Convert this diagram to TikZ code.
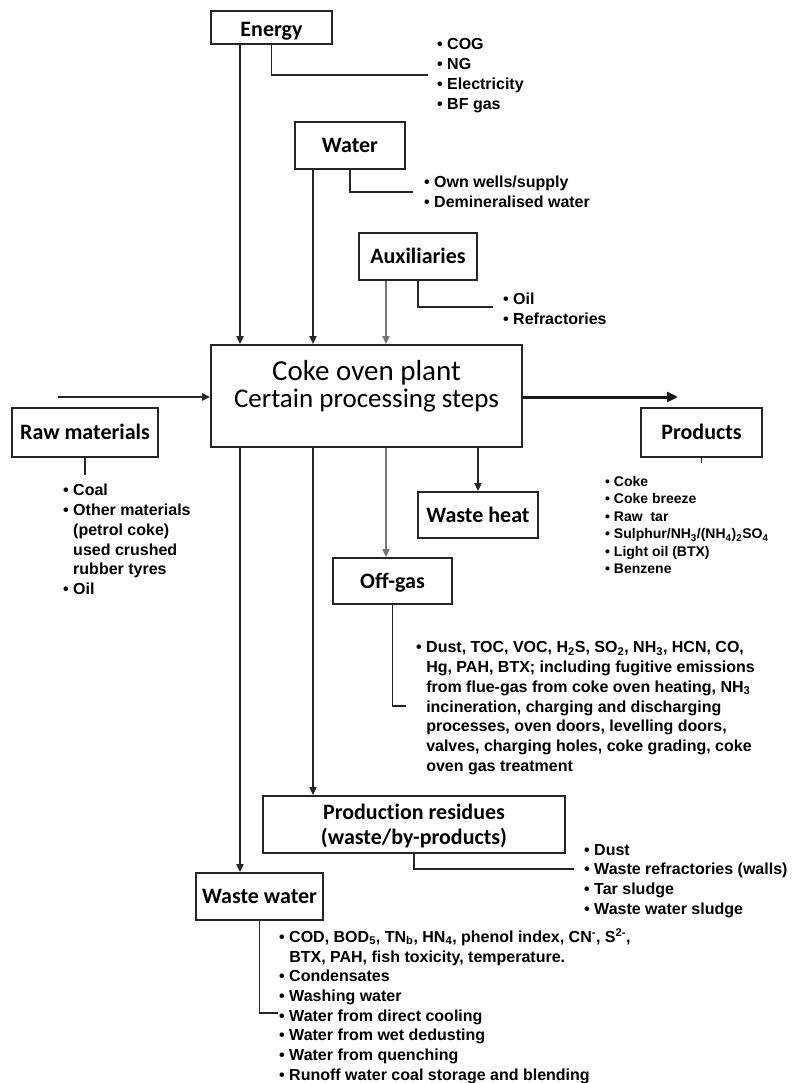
\documentclass[tikz,border=0pt]{standalone}
\usepackage{fontspec}
\setmainfont{Liberation Sans}
\newfontfamily\carlito[Ligatures=NoCommon]{Carlito}
\usetikzlibrary{arrows.meta}

% continuation line of a bulleted item
\newcommand{\cont}{\hphantom{\textbullet\ }}

\tikzset{
  box/.style={draw=black!85, line width=1.8pt, inner sep=0pt, align=center,
    text height=14pt, text depth=0pt,
    font=\carlito\bfseries\fontsize{22}{25}\selectfont},
  conn/.style={draw=black!85, line width=1.8pt},
  arr/.style={conn, -{Triangle[length=8pt,width=7pt]}},
  garr/.style={arr, draw=black!55},
  bigarr/.style={draw=black!90, line width=3pt, -{Triangle[length=11pt,width=10pt]}},
  itemlist/.style={anchor=north west, inner sep=0pt, align=left,
    font=\bfseries\fontsize{16}{19.7}\selectfont},
  smalllist/.style={itemlist, font=\bfseries\fontsize{14}{17.5}\selectfont},
  plantfont/.style={anchor=base, inner sep=0pt, font=\carlito},
}

\begin{document}
\begin{tikzpicture}[x=1pt,y=-1pt]
\fill[white] (0,0) rectangle (792,1083);
\useasboundingbox (0,0) rectangle (792,1083);

% columns of the vertical flows
\coordinate (colA) at (240,0);
\coordinate (colB) at (313,0);
\coordinate (colC) at (386,0);

% boxes
\node[box, minimum width=121pt, minimum height=33pt, text height=19pt] (energy) at (271.5,27.5) {Energy};
\node[box, minimum width=110pt, minimum height=47pt] (water) at (350,145.5) {Water};
\node[box, minimum width=118pt, minimum height=47pt] (aux) at (418,256.5) {Auxiliaries};
\node[box, minimum width=311pt, minimum height=102pt] (plant) at (366.5,396) {};
\node[box, minimum width=146pt, minimum height=49pt] (raw) at (85,432.5) {Raw materials};
\node[box, minimum width=121pt, minimum height=49pt] (products) at (701.5,432.5) {Products};
\node[box, minimum width=120pt, minimum height=46pt] (wasteheat) at (478,515) {Waste heat};
\node[box, minimum width=119pt, minimum height=46pt] (offgas) at (392.5,581) {Off-gas};
\node[box, minimum width=302pt, minimum height=57pt, text height=39pt] (residues) at (414,824.5)
  {Production residues\\(waste/by-products)};
\node[box, minimum width=127pt, minimum height=47pt] (wastewater) at (259.5,896.5) {Waste water};

% title of the plant box
\node[plantfont, font=\carlito\fontsize{29}{32}\selectfont] (plantname) at (366.5,380.5) {Coke oven plant};
\node[plantfont, font=\carlito\fontsize{27}{30}\selectfont] (plantsteps) at (366.5,407) {Certain processing steps};

% item lists
\node[itemlist] (elist) at (437,36) {\strut• COG\\• NG\\• Electricity\\• BF gas};
\node[itemlist] (wlist) at (424,174) {\strut• Own wells/supply\\• Demineralised water};
\node[itemlist] (alist) at (503,291) {\strut• Oil\\• Refractories};
\node[itemlist] (rlist) at (63,482) {\strut• Coal\\• Other materials\\\cont(petrol coke)\\\cont used crushed\\\cont rubber tyres\\• Oil};
\node[smalllist] (plist) at (605,474) {\strut• Coke\\• Coke breeze\\• Raw~ tar\\• Sulphur/NH\textsubscript{3}/(NH\textsubscript{4})\textsubscript{2}SO\textsubscript{4}\\• Light oil (BTX)\\• Benzene};
\node[itemlist] (olist) at (416,639) {\strut• Dust, TOC, VOC, H\textsubscript{2}S, SO\textsubscript{2}, NH\textsubscript{3}, HCN, CO,\\
  \cont Hg, PAH, BTX; including fugitive emissions\\
  \cont from flue-gas from coke oven heating, NH\textsubscript{3}\\
  \cont incineration, charging and discharging\\
  \cont processes, oven doors, levelling doors,\\
  \cont valves, charging holes, coke grading, coke\\
  \cont oven gas treatment};
\node[itemlist] (reslist) at (584,841) {\strut• Dust\\• Waste refractories (walls)\\• Tar sludge\\• Waste water sludge};
\node[itemlist] (wwlist) at (279,928) {\strut• COD, BOD\textsubscript{5}, TN\textsubscript{b}, HN\textsubscript{4}, phenol index, CN\textsuperscript{-}, S\textsuperscript{2-},\\
  \cont BTX, PAH, fish toxicity, temperature.\\
  • Condensates\\• Washing water\\• Water from direct cooling\\• Water from wet dedusting\\
  • Water from quenching\\• Runoff water coal storage and blending};

% inputs from above
\draw[arr] (energy.south -| colA) -- (plant.north -| colA);
\draw[arr] (water.south -| colB) -- (plant.north -| colB);
\draw[garr] (aux.south -| colC) -- (plant.north -| colC);

% raw material in, products out
\coordinate (inStart) at (58,397);
\coordinate (outEnd) at (678,397);
\draw[arr, line width=2.2pt] (inStart) -- (inStart -| plant.west);
\draw[bigarr] (outEnd -| plant.east) -- (outEnd);

% outputs below
\draw[arr] (plant.south -| colA) -- (wastewater.north -| colA);
\draw[arr] (plant.south -| colB) -- (residues.north -| colB);
\draw[garr] (plant.south -| colC) -- (offgas.north -| colC);
\draw[arr] (plant.south -| wasteheat.north) -- (wasteheat.north);

% leaders to the item lists
\coordinate (eEnd) at (428,75);
\coordinate (wEnd) at (413,192);
\coordinate (aEnd) at (493,307);
\coordinate (rEnd) at (85,475);
\coordinate (pEnd) at (701.5,463);
\coordinate (oEnd) at (406,706);
\coordinate (resEnd) at (574,869);
\coordinate (wwEnd) at (278,1013);
\draw[conn] (energy.south) |- (eEnd);
\draw[conn] (water.south) |- (wEnd);
\draw[conn] (aux.south) |- (aEnd);
\draw[conn] (raw.south) -- (rEnd);
\draw[conn] (products.south) -- (pEnd);
\draw[conn] (offgas.south) |- (oEnd);
\draw[conn] (residues.south) |- (resEnd);
\draw[conn] (wastewater.south) |- (wwEnd);
\end{tikzpicture}
\end{document}
